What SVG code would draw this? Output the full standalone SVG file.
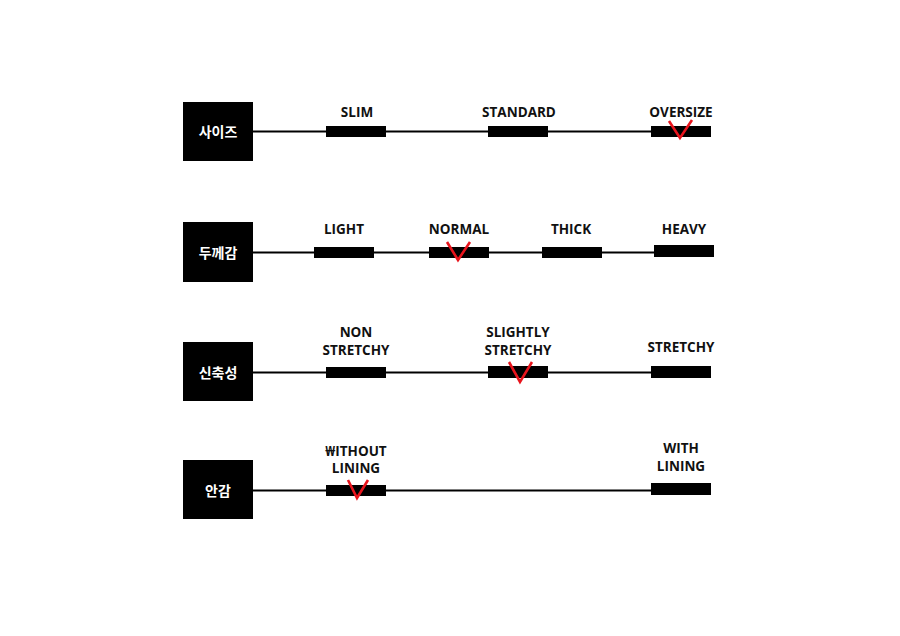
<svg xmlns="http://www.w3.org/2000/svg" width="900" height="636" viewBox="0 0 900 636">
<style>
.box{fill:#000}
.ko{fill:#fff;font-family:"Noto Sans CJK KR","Noto Sans",sans-serif;font-weight:700;font-size:14px;text-anchor:middle}
.lbl{fill:#111;font-family:"Open Sans","Noto Sans",sans-serif;font-weight:700;font-size:13.5px;text-anchor:middle}
.line{stroke:#000;stroke-width:2;fill:none}
.bar{fill:#000}
.chk{stroke:#e8141c;stroke-width:2.6;fill:none;stroke-linejoin:miter}
</style>
<rect width="900" height="636" fill="#fff"/>
<g id="connectors">
<line class="line" x1="253" y1="131.5" x2="711" y2="131.5"/>
<line class="line" x1="253" y1="252.5" x2="654" y2="252.5"/>
<line class="line" x1="253" y1="372.5" x2="651" y2="372.5"/>
<line class="line" x1="253" y1="490.5" x2="651" y2="490.5"/>
</g>
<g id="row-size">
<rect class="box" x="183" y="102" width="70" height="59"/>
<text class="ko" x="218" y="136.5">사이즈</text>
<rect class="bar" x="326" y="126" width="60" height="11"/>
<text class="lbl" x="357" y="117">SLIM</text>
<rect class="bar" x="488" y="126" width="60" height="11"/>
<text class="lbl" x="519" y="117">STANDARD</text>
<rect class="bar" x="651" y="126" width="60" height="11"/>
<text class="lbl" x="681" y="117">OVERSIZE</text>
<polyline class="chk" points="669,121 680,138 692,120"/>
</g>
<g id="row-thickness">
<rect class="box" x="183" y="222" width="70" height="60"/>
<text class="ko" x="218" y="257.5">두께감</text>
<rect class="bar" x="314" y="247" width="60" height="11"/>
<text class="lbl" x="344" y="234">LIGHT</text>
<rect class="bar" x="429" y="247" width="60" height="11"/>
<text class="lbl" x="459" y="234">NORMAL</text>
<polyline class="chk" points="447,242 458,260 470,242"/>
<rect class="bar" x="542" y="247" width="60" height="11"/>
<text class="lbl" x="571" y="234">THICK</text>
<rect class="bar" x="654" y="245" width="60" height="12"/>
<text class="lbl" x="684" y="234">HEAVY</text>
</g>
<g id="row-stretch">
<rect class="box" x="183" y="342" width="70" height="59"/>
<text class="ko" x="218" y="377.5">신축성</text>
<rect class="bar" x="326" y="367" width="60" height="11"/>
<text class="lbl" x="356" y="337">NON</text>
<text class="lbl" x="356" y="355">STRETCHY</text>
<rect class="bar" x="488" y="366" width="60" height="12"/>
<text class="lbl" x="518" y="337">SLIGHTLY</text>
<text class="lbl" x="518" y="355">STRETCHY</text>
<polyline class="chk" points="509,362 520,382 532,362"/>
<rect class="bar" x="651" y="366" width="60" height="12"/>
<text class="lbl" x="681" y="352">STRETCHY</text>
</g>
<g id="row-lining">
<rect class="box" x="183" y="460" width="70" height="59"/>
<text class="ko" x="218" y="495.5">안감</text>
<rect class="bar" x="326" y="485" width="60" height="11"/>
<text class="lbl" x="356" y="456">₩ITHOUT</text>
<text class="lbl" x="356" y="473">LINING</text>
<polyline class="chk" points="348,480 357,498 368,480"/>
<rect class="bar" x="651" y="483" width="60" height="12"/>
<text class="lbl" x="681" y="453">WITH</text>
<text class="lbl" x="681" y="471">LINING</text>
</g>
</svg>
